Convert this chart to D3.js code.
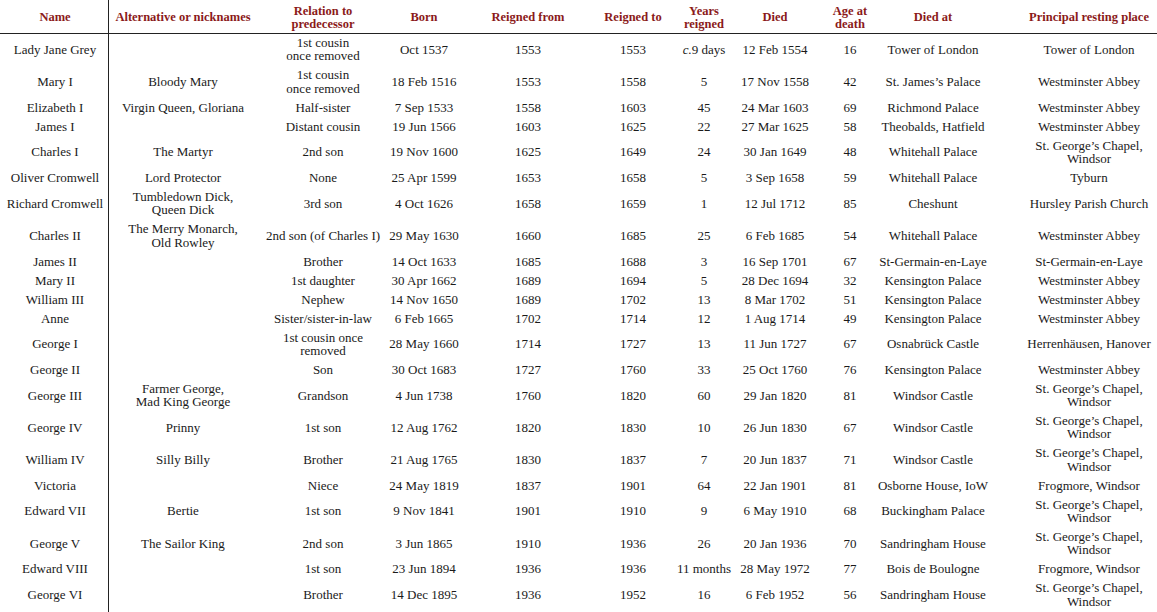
<!DOCTYPE html>
<html>
<head>
<meta charset="utf-8">
<script src="https://cdn.jsdelivr.net/npm/d3@7"></script>
<style>
  body { margin: 0; background: #fff; }
  svg { display: block; }
  .cell { font-family: "Liberation Serif", "DejaVu Serif", serif; font-size: 13px; fill: #1a1a1a; }
  .head { font-family: "Liberation Serif", "DejaVu Serif", serif; font-size: 12.5px; font-weight: bold; fill: #8b1a1a; }
</style>
</head>
<body>
<div id="chart"></div>
<script>
// column headers (\n = line break)
var headers = ["Name", "Alternative or nicknames", "Relation to\npredecessor", "Born", "Reigned from",
  "Reigned to", "Years\nreigned", "Died", "Age at\ndeath", "Died at", "Principal resting place"];

var names = ["Lady Jane Grey", "Mary I", "Elizabeth I", "James I", "Charles I", "Oliver Cromwell",
  "Richard Cromwell", "Charles II", "James II", "Mary II", "William III", "Anne", "George I",
  "George II", "George III", "George IV", "William IV", "Victoria", "Edward VII", "George V",
  "Edward VIII", "George VI"];

var nicknames = ["", "Bloody Mary", "Virgin Queen, Gloriana", "", "The Martyr", "Lord Protector",
  "Tumbledown Dick,\nQueen Dick", "The Merry Monarch,\nOld Rowley", "", "", "", "", "", "",
  "Farmer George,\nMad King George", "Prinny", "Silly Billy", "", "Bertie", "The Sailor King", "", ""];

var relations = ["1st cousin\nonce removed", "1st cousin\nonce removed", "Half-sister", "Distant cousin",
  "2nd son", "None", "3rd son", "2nd son (of Charles I)", "Brother", "1st daughter", "Nephew",
  "Sister/sister-in-law", "1st cousin once\nremoved", "Son", "Grandson", "1st son", "Brother",
  "Niece", "1st son", "2nd son", "1st son", "Brother"];

var born = ["Oct 1537", "18 Feb 1516", "7 Sep 1533", "19 Jun 1566", "19 Nov 1600", "25 Apr 1599",
  "4 Oct 1626", "29 May 1630", "14 Oct 1633", "30 Apr 1662", "14 Nov 1650", "6 Feb 1665",
  "28 May 1660", "30 Oct 1683", "4 Jun 1738", "12 Aug 1762", "21 Aug 1765", "24 May 1819",
  "9 Nov 1841", "3 Jun 1865", "23 Jun 1894", "14 Dec 1895"];

var reignedFrom = [1553, 1553, 1558, 1603, 1625, 1653, 1658, 1660, 1685, 1689, 1689, 1702,
  1714, 1727, 1760, 1820, 1830, 1837, 1901, 1910, 1936, 1936];

var reignedTo = [1553, 1558, 1603, 1625, 1649, 1658, 1659, 1685, 1688, 1694, 1702, 1714,
  1727, 1760, 1820, 1830, 1837, 1901, 1910, 1936, 1936, 1952];

var yearsReigned = ["c.9 days", "5", "45", "22", "24", "5", "1", "25", "3", "5", "13", "12",
  "13", "33", "60", "10", "7", "64", "9", "26", "11 months", "16"];

var died = ["12 Feb 1554", "17 Nov 1558", "24 Mar 1603", "27 Mar 1625", "30 Jan 1649", "3 Sep 1658",
  "12 Jul 1712", "6 Feb 1685", "16 Sep 1701", "28 Dec 1694", "8 Mar 1702", "1 Aug 1714",
  "11 Jun 1727", "25 Oct 1760", "29 Jan 1820", "26 Jun 1830", "20 Jun 1837", "22 Jan 1901",
  "6 May 1910", "20 Jan 1936", "28 May 1972", "6 Feb 1952"];

var ageAtDeath = [16, 42, 69, 58, 48, 59, 85, 54, 67, 32, 51, 49, 67, 76, 81, 67, 71, 81, 68, 70, 77, 56];

var diedAt = ["Tower of London", "St. James’s Palace", "Richmond Palace", "Theobalds, Hatfield",
  "Whitehall Palace", "Whitehall Palace", "Cheshunt", "Whitehall Palace", "St-Germain-en-Laye",
  "Kensington Palace", "Kensington Palace", "Kensington Palace", "Osnabrück Castle",
  "Kensington Palace", "Windsor Castle", "Windsor Castle", "Windsor Castle", "Osborne House, IoW",
  "Buckingham Palace", "Sandringham House", "Bois de Boulogne", "Sandringham House"];

var restingPlace = ["Tower of London", "Westminster Abbey", "Westminster Abbey", "Westminster Abbey",
  "St. George’s Chapel,\nWindsor", "Tyburn", "Hursley Parish Church", "Westminster Abbey",
  "St-Germain-en-Laye", "Westminster Abbey", "Westminster Abbey", "Westminster Abbey",
  "Herrenhäusen, Hanover", "Westminster Abbey", "St. George’s Chapel,\nWindsor",
  "St. George’s Chapel,\nWindsor", "St. George’s Chapel,\nWindsor", "Frogmore, Windsor",
  "St. George’s Chapel,\nWindsor", "St. George’s Chapel,\nWindsor", "Frogmore, Windsor",
  "St. George’s Chapel,\nWindsor"];

var columns = [names, nicknames, relations, born, reignedFrom, reignedTo, yearsReigned,
  died, ageAtDeath, diedAt, restingPlace];

// layout
var width = 1157, height = 612;
var colCenters = [55, 183, 323, 424, 528, 633, 704, 775, 850, 933, 1089];
var dividerX = 108;
var headerH = 33, lineH = 13.3, rowPad = 5.7;

var svg = d3.select("#chart").append("svg")
  .attr("width", width)
  .attr("height", height);

var colX = d3.scaleOrdinal()
  .domain(d3.range(headers.length))
  .range(colCenters);

// build rows, each row height from its tallest cell
var rows = names.map(function(n, i) {
  var cells = columns.map(function(c) { return String(c[i]).split("\n"); });
  var lines = d3.max(cells, function(c) { return c.length; });
  return { cells: cells, h: rowPad + lines * lineH };
});
var y = headerH;
rows.forEach(function(r) { r.y = y; y += r.h; r.cy = r.y + r.h / 2; });

function drawLines(sel, lines, cy, lh) {
  var off = -(lines.length - 1) * lh / 2;
  lines.forEach(function(t, k) {
    var ts = sel.append("tspan")
      .attr("x", sel.attr("x"))
      .attr("y", cy + off + k * lh)
      .attr("dy", "0.35em");
    if (t.indexOf("c.") === 0) {
      ts.append("tspan").style("font-style", "italic").text("c.");
      ts.append("tspan").text(t.slice(2));
    } else {
      ts.text(t);
    }
  });
}

// header
svg.append("g").selectAll("text")
  .data(headers)
  .enter().append("text")
  .attr("class", "head")
  .attr("x", function(d, i) { return colX(i); })
  .attr("text-anchor", "middle")
  .each(function(d) { drawLines(d3.select(this), d.split("\n"), 17, 13); });

// body
var rowG = svg.append("g").selectAll("g")
  .data(rows)
  .enter().append("g");

rowG.selectAll("text")
  .data(function(r) { return r.cells.map(function(c) { return { lines: c, cy: r.cy }; }); })
  .enter().append("text")
  .attr("class", "cell")
  .attr("x", function(d, i) { return colX(i); })
  .attr("text-anchor", "middle")
  .each(function(d) { drawLines(d3.select(this), d.lines, d.cy, lineH); });

// rules
svg.append("line")
  .attr("x1", 0).attr("x2", width)
  .attr("y1", headerH + 0.5).attr("y2", headerH + 0.5)
  .attr("stroke", "#222").attr("stroke-width", 1);

svg.append("line")
  .attr("x1", dividerX + 0.5).attr("x2", dividerX + 0.5)
  .attr("y1", 0).attr("y2", height)
  .attr("stroke", "#222").attr("stroke-width", 1);
</script>
</body>
</html>
